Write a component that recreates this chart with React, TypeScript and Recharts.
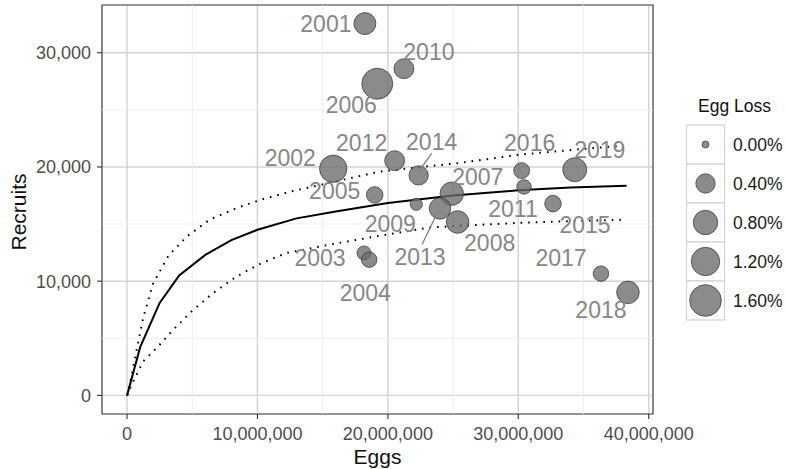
import React from 'react';
import {
  ComposedChart, Scatter, Line, XAxis, YAxis, CartesianGrid, ReferenceLine, ReferenceArea,
} from 'recharts';

// ---- data ----
const years = ['2001','2002','2003','2004','2005','2006','2007','2008','2009','2010','2011','2012','2013','2014','2015','2016','2017','2018','2019'];
const eggs = [18240000,15810000,18170000,18570000,18990000,19190000,24900000,25350000,22180000,21230000,30440000,20520000,24000000,22360000,32660000,30260000,36340000,38410000,34330000];
const recruits = [32550,19840,12470,11880,17550,27290,17660,15180,16730,28600,18250,20550,16370,19260,16790,19680,10660,9020,19760];
const eggLoss = [0.59,1.09,0.13,0.19,0.24,1.51,0.71,0.64,0.07,0.44,0.15,0.44,0.55,0.40,0.24,0.21,0.19,0.64,0.76];

const fitEggs = [0,1000000,2500000,4000000,6000000,8000000,10000000,13000000,16000000,20000000,25000000,30000000,34000000,38300000];
const fitRecruits = [0,4200,8100,10500,12300,13600,14500,15500,16100,16850,17500,17950,18200,18360];

const upperEggs = [0,350000,740000,1240000,2000000,3160000,4570000,6360000,8400000,10450000,12750000,19400000,25500000,30100000,34200000,38050000];
const upperRecruits = [0,1700,4000,6800,9800,12200,13900,15400,16400,17200,17900,19600,20350,21080,21500,21870];

const lowerEggs = [0,350000,1240000,2390000,3420000,4950000,6610000,8400000,10320000,12240000,15550000,19390000,23200000,25500000,30000000,34000000,38050000];
const lowerRecruits = [0,940,2980,4290,5600,7360,8970,10420,11590,12470,13200,13980,14700,14850,15100,15250,15390];

const xTicks = [0,10000000,20000000,30000000,40000000];
const yTicks = [0,10000,20000,30000];
const xMinor = [5000000,15000000,25000000,35000000];
const yMinor = [5000,15000,25000];
const legendLoss = [0,0.4,0.8,1.2,1.6];

// ---- layout (label nudges in px, not data) ----
const labelNudge: Record<string, [number, number]> = {
  '2001': [-39, 0], '2010': [25, -17], '2006': [-26, 21], '2012': [-33, -18],
  '2014': [13, -33], '2002': [-43, -11], '2005': [-40, -4], '2009': [-26, 20],
  '2013': [-20, 49], '2003': [-44, 5], '2004': [-4, 33], '2007': [26, -17],
  '2008': [32, 21], '2016': [8, -28], '2019': [25, -20], '2011': [-11, 22],
  '2015': [32, 21], '2017': [-40, -16], '2018': [-27, 18],
};
const labelSegments: Record<string, [number, number, number, number]> = {
  '2014': [13, -22, 3, -8],
  '2013': [-18, 36, -4, 7],
};

const points = years.map((yr, i) => ({ year: yr, x: eggs[i], y: recruits[i], loss: eggLoss[i] }));
const fitData = fitEggs.map((e, i) => ({ x: e, y: fitRecruits[i] }));
const upperData = upperEggs.map((e, i) => ({ x: e, y: upperRecruits[i] }));
const lowerData = lowerEggs.map((e, i) => ({ x: e, y: lowerRecruits[i] }));

const FONT = '"Liberation Sans", Arial, Helvetica, sans-serif';
const radius = (loss: number) => 3.5 + 9.75 * Math.sqrt(loss);
const fmt = (v: number) => v.toLocaleString('en-US');

const X_DOMAIN: [number, number] = [-1920000, 40330000];
const Y_DOMAIN: [number, number] = [-1628, 34178];

const Bubble = (props: any) => {
  const { cx, cy, payload } = props;
  if (cx == null || cy == null) return null;
  return (
    <circle cx={cx} cy={cy} r={radius(payload.loss)} fill="#6a6a6a" fillOpacity={0.78}
      stroke="#3a3a3a" strokeOpacity={0.75} strokeWidth={1} />
  );
};

const YearLabel = (props: any) => {
  const { cx, cy, payload } = props;
  if (cx == null || cy == null) return null;
  const [dx, dy] = labelNudge[payload.year] || [0, 0];
  const seg = labelSegments[payload.year];
  return (
    <g>
      {seg && (
        <line x1={cx + seg[0]} y1={cy + seg[1]} x2={cx + seg[2]} y2={cy + seg[3]}
          stroke="#7a7a7a" strokeWidth={1.2} />
      )}
      <text x={cx + dx} y={cy + dy} textAnchor="middle" dominantBaseline="central"
        fontFamily={FONT} fontSize={23} fill="#878787">{payload.year}</text>
    </g>
  );
};

export default function App() {
  return (
    <div style={{ position: 'absolute', left: 0, top: 0, width: 786, height: 469, background: '#fff' }}>
      <ComposedChart width={786} height={469} margin={{ top: 5, right: 133, bottom: 0, left: 0 }}>
        <CartesianGrid stroke="#d3d3d3" strokeWidth={1.4} />
        {xMinor.map((v) => (
          <ReferenceLine key={'xm' + v} x={v} stroke="#ececec" strokeWidth={0.9} />
        ))}
        {yMinor.map((v) => (
          <ReferenceLine key={'ym' + v} y={v} stroke="#ececec" strokeWidth={0.9} />
        ))}
        <XAxis type="number" dataKey="x" domain={X_DOMAIN} ticks={xTicks} allowDataOverflow
          tickFormatter={fmt} height={55} axisLine={false} tickSize={5} tickMargin={8}
          tickLine={{ stroke: '#333', strokeWidth: 1.1 }}
          tick={{ fontSize: 18, fill: '#4d4d4d', fontFamily: FONT }}
          label={(p: any) => (
            <text x={377.5} y={464} textAnchor="middle" fontSize={21} fontFamily={FONT} fill="#111">Eggs</text>
          )} />
        <YAxis type="number" dataKey="y" domain={Y_DOMAIN} ticks={yTicks} allowDataOverflow
          tickFormatter={fmt} width={102} axisLine={false} tickSize={5} tickMargin={6}
          tickLine={{ stroke: '#333', strokeWidth: 1.1 }}
          tick={{ fontSize: 18, fill: '#4d4d4d', fontFamily: FONT }}
          label={(p: any) => (
            <text x={26} y={212} textAnchor="middle" fontSize={21} fontFamily={FONT} fill="#111"
              transform="rotate(-90 26 212)">Recruits</text>
          )} />
        <Scatter data={points} dataKey="y" shape={Bubble} isAnimationActive={false} />
        <Line data={upperData} dataKey="y" type="linear" stroke="#000" strokeWidth={2}
          strokeDasharray="1.6 6" dot={false} activeDot={false} isAnimationActive={false} />
        <Line data={lowerData} dataKey="y" type="linear" stroke="#000" strokeWidth={2}
          strokeDasharray="1.6 6" dot={false} activeDot={false} isAnimationActive={false} />
        <Line data={fitData} dataKey="y" type="linear" stroke="#000" strokeWidth={2}
          dot={false} activeDot={false} isAnimationActive={false} />
        <Scatter data={points} dataKey="y" shape={YearLabel} isAnimationActive={false} />
        <ReferenceArea x1={X_DOMAIN[0]} x2={X_DOMAIN[1]} y1={Y_DOMAIN[0]} y2={Y_DOMAIN[1]}
          fill="none" fillOpacity={0} stroke="#4d4d4d" strokeWidth={1.2} />
      </ComposedChart>
      <svg width={786} height={469} style={{ position: 'absolute', left: 0, top: 0, pointerEvents: 'none' }}>
        <text x={698} y={112} fontSize={17.5} fontFamily={FONT} fill="#111">Egg Loss</text>
        {legendLoss.map((v, i) => (
          <g key={v}>
            <rect x={686.5} y={125 + i * 39} width={38} height={39} fill="#fff" stroke="#d2d2d2" strokeWidth={1.2} />
            <circle cx={705.5} cy={144.5 + i * 39} r={radius(v)} fill="#6a6a6a" fillOpacity={0.78}
              stroke="#3a3a3a" strokeOpacity={0.75} strokeWidth={1} />
            <text x={733} y={144.5 + i * 39} dominantBaseline="central" fontSize={17.5}
              fontFamily={FONT} fill="#1a1a1a">{v.toFixed(2) + '%'}</text>
          </g>
        ))}
      </svg>
    </div>
  );
}
